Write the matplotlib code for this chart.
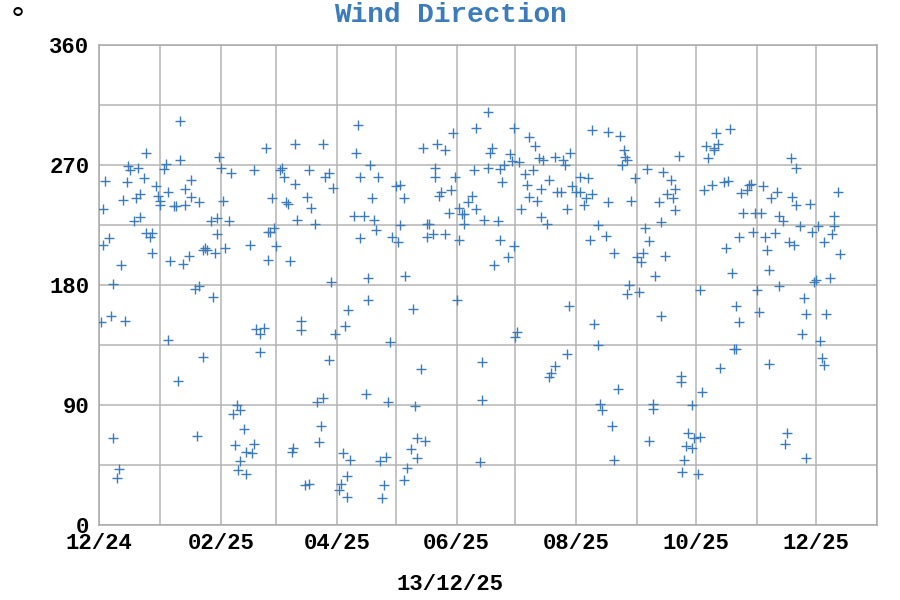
import datetime as dt
import matplotlib
matplotlib.use("Agg")
import matplotlib.pyplot as plt
import matplotlib.dates as mdates
from matplotlib.ticker import MultipleLocator

# days after 2024-12-01 and wind direction in degrees
start = dt.date(2024, 12, 1)
day = [41, 24, 41, 34, 15, 16, 20, 33, 3, 14, 23, 29, 44, 35, 21, 30, 12, 19, 31, 31,
       38, 39, 44, 2, 21, 18, 24, 27, 26, 5, 2, 27, 36, 43, 46, 11, 7, 6, 1, 13,
       35, 40, 7, 10, 9,
       85, 61, 62, 67, 79, 92, 93, 94, 47, 47, 51, 63, 88, 57, 60, 66, 60, 89, 87, 86,
       90, 77, 64, 54, 55, 53, 59, 86, 51, 49, 58, 80, 84, 82, 82, 53, 70, 72, 68, 74,
       50, 69, 79, 75, 78, 72, 71, 75,
       132, 100, 114, 131, 138, 107, 117, 115, 133, 142, 100, 119, 106, 139, 95, 96, 108, 130, 135, 140,
       101, 110, 141, 133, 97, 118, 137, 137, 127, 103, 103, 125, 120, 117, 136, 111, 114, 113, 112, 99,
       98, 124, 128, 126, 123, 122, 105, 107, 126,
       180, 165, 172, 176, 171, 171, 181, 151, 153, 155, 174, 179, 173, 178, 183, 188, 190, 185, 186, 186,
       153, 167, 168, 149, 152, 167, 170, 176, 183, 156, 182, 160, 148, 164, 147, 161, 162, 166, 159, 162,
       146, 143, 157, 155, 145, 144,
       198, 192, 211, 219, 200, 199, 222, 209, 210, 214, 224, 226, 232, 236, 237, 240, 191, 198, 204, 206,
       221, 217, 205, 218, 229, 225, 219, 223, 233, 235, 192, 215, 238, 196, 203, 225, 228, 204, 211, 208,
       201, 239, 213, 212, 195, 238, 232, 230, 229, 195, 194,
       251, 259, 265, 267, 268, 269, 266, 279, 245, 249, 273, 241, 243, 245, 251, 248, 247, 259, 271, 285,
       286, 254, 278, 250, 258, 280, 262, 277, 274, 276, 283, 270, 269, 275, 286, 252, 254, 264, 255, 256,
       282, 282, 261, 280, 262,
       321, 314, 309, 315, 313, 313, 310, 295, 287, 291, 293, 289, 292, 293, 312, 308, 318, 320, 327, 330,
       331, 332, 328, 334, 333, 326, 319, 288, 322, 306, 335, 324, 336, 326, 323, 324, 316, 296, 296, 307,
       302, 300, 303, 306, 299, 302, 298, 297, 305,
       352, 355, 338, 345, 342, 353, 355, 362, 376, 337, 346, 348, 374, 357, 366, 374, 339, 344, 363, 373,
       351, 354, 369, 340, 377, 341, 346, 364, 365, 372, 359, 360, 370, 358, 367, 368, 369, 341, 350, 349,
       360]
direction = [303, 279, 274, 271, 269, 266, 268, 267, 258, 257, 260, 254, 252, 250, 248, 247, 244, 245, 243, 240,
             239, 239, 240, 237, 231, 228, 219, 219, 216, 215, 210, 204, 198, 196, 202, 195, 181, 157, 152, 153,
             139, 108, 65, 42, 35,
             283, 276, 268, 264, 266, 266, 268, 261, 259, 246, 242, 243, 245, 228, 230, 228, 218, 223, 220, 220,
             209, 210, 208, 208, 206, 206, 204, 199, 179, 177, 171, 147, 148, 143, 130, 126, 90, 86, 83, 72,
             67, 60, 61, 55, 54, 48, 41, 38,
             300, 286, 286, 279, 270, 266, 264, 261, 261, 261, 256, 253, 246, 245, 242, 241, 238, 232, 232, 229,
             229, 226, 221, 215, 198, 182, 185, 169, 161, 153, 146, 149, 143, 124, 98, 92, 95, 74, 62, 58,
             55, 54, 49, 37, 31, 26, 30, 31, 21,
             294, 283, 286, 281, 268, 261, 261, 254, 255, 245, 250, 251, 247, 234, 238, 242, 247, 233, 233, 226,
             225, 226, 226, 216, 212, 216, 218, 218, 214, 187, 169, 162, 137, 117, 92, 89, 65, 63, 57, 50,
             51, 48, 43, 34, 30, 20,
             310, 298, 298, 291, 283, 279, 284, 278, 273, 272, 275, 274, 276, 274, 270, 279, 266, 268, 267, 270,
             266, 263, 257, 255, 259, 252, 246, 243, 250, 250, 237, 237, 237, 229, 228, 231, 226, 214, 209, 201,
             195, 164, 145, 141, 122, 128, 119, 114, 111, 94, 47,
             296, 295, 292, 281, 276, 274, 270, 267, 261, 260, 260, 254, 250, 250, 248, 245, 240, 242, 243, 242,
             227, 225, 223, 214, 217, 213, 204, 204, 201, 197, 187, 180, 173, 175, 157, 151, 135, 102, 91, 86,
             91, 87, 74, 63, 49,
             297, 294, 284, 286, 281, 283, 275, 277, 265, 259, 252, 248, 245, 236, 255, 251, 257, 258, 249, 251,
             255, 256, 234, 234, 220, 216, 208, 202, 189, 176, 176, 164, 160, 152, 132, 132, 118, 112, 107, 100,
             90, 69, 65, 66, 59, 58, 49, 40, 38,
             275, 268, 254, 250, 245, 246, 240, 241, 250, 234, 232, 228, 232, 224, 224, 224, 216, 219, 220, 218,
             212, 210, 212, 206, 203, 191, 179, 182, 184, 185, 170, 158, 158, 143, 138, 125, 120, 121, 69, 61,
             50]

dates = [start + dt.timedelta(days=d) for d in day]

blue = '#3c7cbc'
mono = 'Liberation Mono'

fig = plt.figure(figsize=(9, 6), dpi=100)
ax = fig.add_axes([0.11, 0.125, 0.8644, 0.8])

ax.plot(dates, direction, linestyle='none', marker='+', color=blue,
        markersize=7, markeredgewidth=1.0, zorder=3)

ax.set_xlim(dt.date(2024, 12, 1), dt.date(2026, 1, 1))
ax.set_ylim(0, 360)

ax.xaxis.set_major_locator(mdates.MonthLocator(bymonth=[2, 4, 6, 8, 10, 12]))
ax.xaxis.set_minor_locator(mdates.MonthLocator())
ax.xaxis.set_major_formatter(mdates.DateFormatter('%m/%y'))
ax.yaxis.set_major_locator(MultipleLocator(90))
ax.yaxis.set_minor_locator(MultipleLocator(45))

ax.grid(True, which='both', color='#b4b4b4', linewidth=1.1, zorder=0)
ax.set_axisbelow(True)
for s in ax.spines.values():
    s.set_color('#aaaaaa')
    s.set_linewidth(1.1)

ax.tick_params(which='both', length=0)
ax.tick_params(axis='y', pad=7)
ax.tick_params(axis='x', pad=6)
for lbl in ax.get_xticklabels() + ax.get_yticklabels():
    lbl.set_fontfamily(mono)
    lbl.set_fontweight('bold')
    lbl.set_fontsize(16)

fig.text(0.5, 0.975, 'Wind Direction', ha='center', va='center',
         family=mono, weight='bold', fontsize=20, color=blue)
fig.text(0.5, 0.025, '13/12/25', ha='center', va='center',
         family=mono, weight='bold', fontsize=16, color='black')
fig.text(0.02, 0.965, '°', ha='center', va='center',
         family=mono, fontsize=24, color='black')

fig.savefig('out.png', dpi=100)
